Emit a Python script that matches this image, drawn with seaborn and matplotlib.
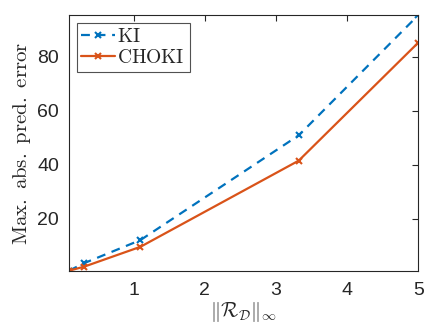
import matplotlib
matplotlib.use("Agg")
import matplotlib.pyplot as plt
import seaborn as sns
import pandas as pd

x_vals = [0.087, 0.30, 1.094, 3.32, 5.0]
ki_vals = [0.6, 3.4, 12.0, 50.9, 95.5]
choki_vals = [0.6, 2.1, 9.5, 41.5, 85.3]
series_names = ["KI", "CHOKI"]
y_ticks = [20, 40, 60, 80]
x_ticks = [1, 2, 3, 4, 5]

sns.set_theme(style="white")
plt.rcParams['font.family'] = ['Liberation Sans', 'DejaVu Sans']
plt.rcParams['mathtext.fontset'] = 'cm'

df = pd.DataFrame({
    "x": x_vals * 2,
    "y": ki_vals + choki_vals,
    "method": [series_names[0]] * len(x_vals) + [series_names[1]] * len(x_vals),
})

fig = plt.figure(figsize=(4.25, 3.31), dpi=100)
ax = fig.add_axes([0.162, 0.182, 0.822, 0.772])

colors = {"KI": "#0072BD", "CHOKI": "#D95319"}
styles = {"KI": (0, (4, 3)), "CHOKI": "-"}
for name in series_names:
    sub = df[df["method"] == name]
    sns.lineplot(data=sub, x="x", y="y", ax=ax, color=colors[name],
                 linestyle=styles[name], marker="x", markersize=4.5,
                 markeredgewidth=1.5, markeredgecolor=colors[name],
                 markerfacecolor=colors[name], linewidth=1.6,
                 label=r"$\mathrm{%s}$" % name)

ax.set_xlim(min(x_vals), max(x_vals))
ax.set_ylim(min(ki_vals + choki_vals), max(ki_vals + choki_vals))
ax.set_xticks(x_ticks)
ax.set_yticks(y_ticks)
ax.tick_params(direction="in", top=True, right=True, length=4, width=0.8,
               labelsize=14, colors="#262626")
ax.tick_params(axis="y", pad=7)
ax.tick_params(axis="x", pad=8)
for s in ax.spines.values():
    s.set_visible(True)
    s.set_color("#262626")
    s.set_linewidth(0.8)

ax.set_xlabel(r"$\|\mathcal{R}_{\mathcal{D}}\|_\infty$", fontsize=14.5, color="#262626", labelpad=1)
ax.set_ylabel(r"$\mathrm{Max.\ abs.\ pred.\ error}$", fontsize=15, color="#262626", labelpad=3)

leg = ax.legend(loc="upper left", fontsize=14, frameon=True, fancybox=False,
                borderaxespad=0.4, handlelength=1.7, handletextpad=0.15,
                borderpad=0.25, labelspacing=0.15)
leg.get_frame().set_edgecolor("#262626")
leg.get_frame().set_linewidth(0.8)

fig.savefig("out.png", dpi=100)
